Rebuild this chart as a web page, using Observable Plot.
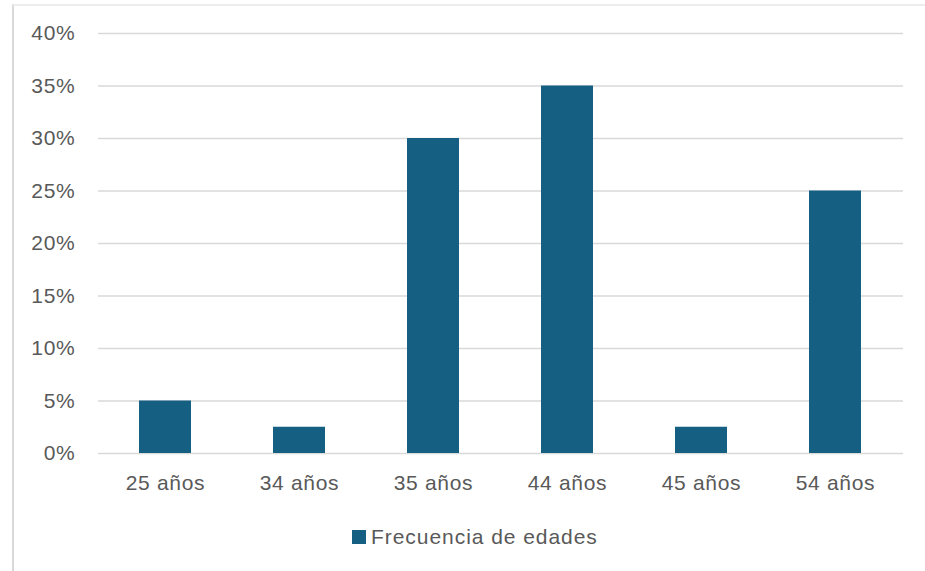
<!DOCTYPE html>
<html>
<head>
<meta charset="utf-8">
<script src="https://cdn.jsdelivr.net/npm/d3@7"></script>
<script src="https://cdn.jsdelivr.net/npm/@observablehq/plot@0.6"></script>
<style>
  html, body { margin: 0; padding: 0; background: #fff; }
  #wrap { position: relative; width: 925px; height: 571px; overflow: hidden; font-family: "Liberation Sans", Arial, sans-serif; }
  #frame { position: absolute; left: 12px; top: 4px; width: 940px; height: 600px; border-left: 2px solid #d9d9d9; border-top: 2px solid #ececec; box-sizing: border-box; }
  #chart { position: absolute; left: 0; top: 0; }
  #chart svg text { letter-spacing: 0.7px; }
  #legend { position: absolute; left: 352px; top: 525px; display: flex; align-items: center; font-size: 21px; color: #595959; letter-spacing: 0.95px; }
  #legend .sw { width: 14px; height: 14px; background: #156082; margin-right: 5px; }
</style>
</head>
<body>
<div id="wrap">
  <div id="frame"></div>
  <div id="chart"></div>
  <div id="legend"><div class="sw"></div><span>Frecuencia de edades</span></div>
</div>
<script>
const categories = ["25 años", "34 años", "35 años", "44 años", "45 años", "54 años"];
const values = [0.05, 0.025, 0.30, 0.35, 0.025, 0.25];
const yTicks = [0, 0.05, 0.10, 0.15, 0.20, 0.25, 0.30, 0.35, 0.40];
const seriesName = "Frecuencia de edades";

const data = categories.map((c, i) => ({ cat: c, value: values[i] }));

const chart = Plot.plot({
  width: 925,
  height: 515,
  marginTop: 33,
  marginBottom: 62,
  marginLeft: 98,
  marginRight: 22,
  style: { fontFamily: '"Liberation Sans", Arial, sans-serif', fontSize: "21px", color: "#595959", background: "transparent" },
  x: { domain: categories, paddingInner: 0.61, paddingOuter: 0.305, label: null },
  y: { domain: [0, 0.40], ticks: yTicks, label: null },
  marks: [
    Plot.gridY(yTicks, { stroke: "#d9d9d9", strokeOpacity: 1, strokeWidth: 1.5 }),
    Plot.barY(data, { x: "cat", y: "value", fill: "#156082" }),
    Plot.axisY(yTicks, { tickSize: 0, tickPadding: 23, tickFormat: d => Math.round(d * 100) + "%", fill: "#595959", fontSize: 21, label: null }),
    Plot.axisX({ tickSize: 0, tickPadding: 22, fill: "#595959", fontSize: 21, label: null })
  ]
});
document.getElementById("chart").appendChild(chart);
</script>
</body>
</html>
